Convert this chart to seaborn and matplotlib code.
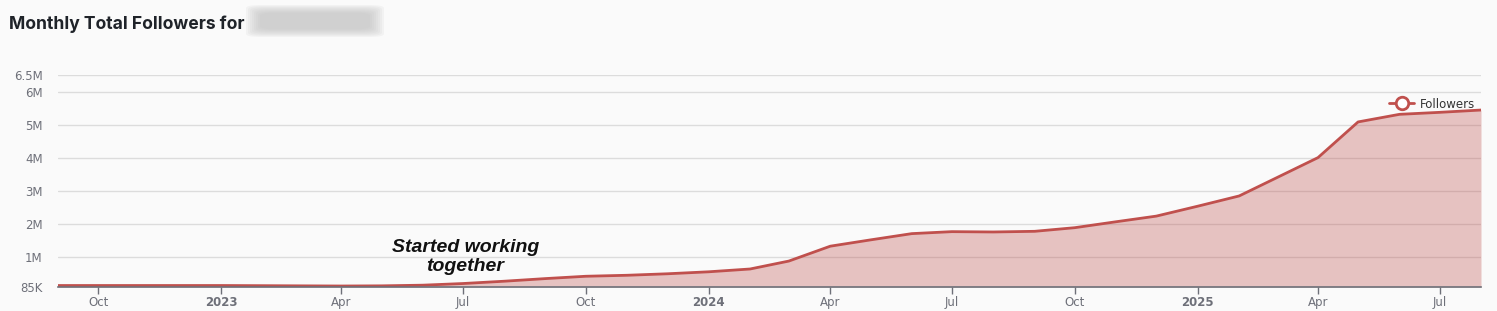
import matplotlib
matplotlib.use("Agg")
import matplotlib.pyplot as plt
import matplotlib.dates as mdates
from matplotlib.lines import Line2D
from matplotlib.patches import FancyBboxPatch, Ellipse
from matplotlib.ticker import FuncFormatter
import seaborn as sns
import pandas as pd

# ---- data ----
months = pd.date_range("2022-09-01", "2025-08-01", freq="MS")
followers_m = [0.13, 0.13, 0.13, 0.13, 0.13, 0.125, 0.12, 0.115, 0.12, 0.14,
               0.19, 0.26, 0.34, 0.41, 0.44, 0.485, 0.545, 0.63, 0.87, 1.32,
               1.51, 1.70, 1.76, 1.75, 1.77, 1.88, 2.06, 2.23, 2.53, 2.84,
               3.39, 4.00, 5.08, 5.31, 5.37, 5.44]
y_ticks = [85_000, 1_000_000, 2_000_000, 3_000_000, 4_000_000, 5_000_000, 6_000_000, 6_500_000]
y_tick_labels = ["85K", "1M", "2M", "3M", "4M", "5M", "6M", "6.5M"]
title = "Monthly Total Followers for"
annotation = "Started working\ntogether"
annotation_date = pd.Timestamp("2023-07-03")
annotation_value = 1_000_000
series_name = "Followers"

df = pd.DataFrame({"date": months, "followers": [v * 1_000_000 for v in followers_m]})

# ---- style ----
BG = "#FAFAFA"
LINE = "#C0504D"
GRID = "#DCDCDC"
AXIS = "#6E7079"
sns.set_theme(style="white")
plt.rcParams["font.family"] = ["DejaVu Sans"]

W, H = 1497, 311
fig = plt.figure(figsize=(W / 100, H / 100), dpi=100, facecolor=BG)
ax = fig.add_axes([58 / W, 1 - 287 / H, (1481 - 58) / W, (287 - 75) / H])
ax.set_facecolor(BG)

ax.fill_between(df["date"], df["followers"], y_ticks[0], color=LINE, alpha=0.33,
                linewidth=0, zorder=3)
sns.lineplot(data=df, x="date", y="followers", ax=ax, color=LINE, linewidth=2,
             zorder=4, legend=False)

ax.set_xlim(df["date"].iloc[0], df["date"].iloc[-1])
ax.set_ylim(y_ticks[0], y_ticks[-1])
ax.set_yticks(y_ticks)
ax.set_yticklabels(y_tick_labels)
ax.yaxis.grid(True, color=GRID, linewidth=1)
for gl in ax.yaxis.get_gridlines():
    gl.set_zorder(3.5)
ax.set_xlabel("")
ax.set_ylabel("")

ax.xaxis.set_major_locator(mdates.MonthLocator(bymonth=[1, 4, 7, 10]))
ax.xaxis.set_major_formatter(FuncFormatter(
    lambda x, pos: (mdates.num2date(x).strftime("%Y") if mdates.num2date(x).month == 1
                    else mdates.num2date(x).strftime("%b"))))

for s in ["left", "right", "top"]:
    ax.spines[s].set_visible(False)
ax.spines["bottom"].set_color(AXIS)
ax.spines["bottom"].set_linewidth(1.2)
ax.spines["bottom"].set_zorder(6)
ax.tick_params(axis="x", bottom=True, length=5, width=1, color=AXIS,
               labelcolor=AXIS, labelsize=8.5, pad=1.5)
ax.tick_params(axis="y", left=False, labelcolor=AXIS, labelsize=8.5, pad=5)

fig.canvas.draw()
for lbl in ax.get_xticklabels():
    if lbl.get_text().isdigit():
        lbl.set_fontweight("bold")

# annotation
ax.text(annotation_date, annotation_value, annotation, ha="center", va="center",
        multialignment="center", fontsize=14, fontweight="bold", fontstyle="italic",
        family=["Liberation Sans", "DejaVu Sans"], color="#111111", linespacing=1.15,
        zorder=7)

# legend
handle = Line2D([], [], color=LINE, linewidth=2, marker="o", markersize=9,
                markerfacecolor="white", markeredgecolor=LINE, markeredgewidth=2)
ax.legend([handle], [series_name], loc="center right",
          bbox_to_anchor=(1481 / W, 1 - 104 / H), bbox_transform=fig.transFigure,
          frameon=False, handlelength=2.1, handletextpad=0.5, borderpad=0,
          prop={"size": 8.5}, labelcolor="#333333")

# title
fig.text(9 / W, 1 - 29 / H, title, ha="left", va="baseline", fontsize=12.6,
         fontweight="bold", family=["Inter", "DejaVu Sans"], color="#1F2329")

# blurred (redacted) name
for i in range(8):
    inset = i * 2.0
    x0, x1 = 246 + inset, 384 - inset
    y0, y1 = 5 + inset * 0.55, 37 - inset * 0.55
    box = FancyBboxPatch((x0 / W, 1 - y1 / H), (x1 - x0) / W, (y1 - y0) / H,
                         boxstyle="round,pad=0,rounding_size=0.01",
                         transform=fig.transFigure, facecolor="#BEBEBE",
                         edgecolor="none", alpha=0.12, zorder=10)
    fig.patches.append(box)

fig.savefig("out.png", dpi=100, facecolor=BG)
